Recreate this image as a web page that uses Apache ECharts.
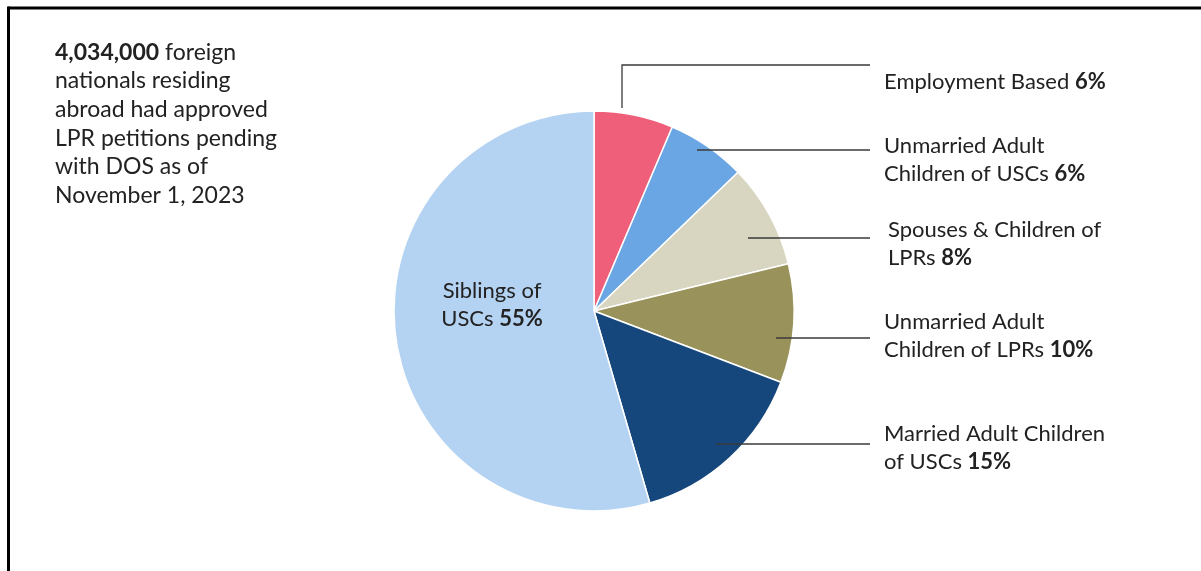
<!DOCTYPE html>
<html>
<head>
<meta charset="utf-8">
<script src="https://cdn.jsdelivr.net/npm/echarts@6/dist/echarts.min.js"></script>
<style>
html,body{margin:0;padding:0;background:#fff;}
#c{width:1201px;height:571px;}
</style>
</head>
<body>
<div id="c"></div>
<script>
// ---- data ----
const categories = [
  'Employment Based',
  'Unmarried Adult\nChildren of USCs',
  'Spouses & Children of\nLPRs',
  'Unmarried Adult\nChildren of LPRs',
  'Married Adult Children\nof USCs',
  'Siblings of\nUSCs'
];
const shares = [6.4, 6.4, 8.4, 9.6, 14.7, 54.5];
const totalPending = '4,034,000';
const introText = ' foreign\nnationals residing\nabroad had approved\nLPR petitions pending\nwith DOS as of\nNovember 1, 2023';

// ---- styles ----
const colors = ['#F05F79', '#6AA6E4', '#D8D6C1', '#9A925B', '#15477C', '#B4D2F2'];
const FONT = 'Lato';
const FS = 22;
const FS_INTRO = 23;
const TXT = '#222';
// label anchor positions (x, y center) and leader line points
const labelPos = [
  {x: 884, y: 82, align: 'left', line: [[622,108],[622,65],[870,65]]},
  {x: 884, y: 160, align: 'left', line: [[697,150],[784,150],[870,150]]},
  {x: 888, y: 244, align: 'left', line: [[748,238],[810,238],[870,238]]},
  {x: 884, y: 336, align: 'left', line: [[776,338],[820,338],[870,338]]},
  {x: 884, y: 448, align: 'left', line: [[716,444],[800,444],[870,444]]},
  {x: 492, y: 305, align: 'center', line: null}
];

function fmt(name, v) {
  const lines = name.split('\n');
  const last = lines.length - 1;
  return lines.map((l, i) => '{n|' + l + '}' + (i === last ? '{n| }{p|' + Math.round(v) + '%}' : '')).join('\n');
}

const introLines = introText.split('\n');
const chart = echarts.init(document.getElementById('c'));
const pieBase = {
  type: 'pie',
  center: [594, 311],
  radius: 200,
  startAngle: 90,
  clockwise: true,
  avoidLabelOverlap: false,
  emphasis: {disabled: true},
  silent: true
};
chart.setOption({
  animation: false,
  backgroundColor: '#fff',
  title: {
    left: 55, top: 38, padding: 0,
    text: '{b|' + totalPending + '}{n|' + introLines[0] + '}\n' +
          introLines.slice(1).map(l => '{n|' + l + '}').join('\n'),
    textStyle: {
      rich: {
        b: {fontFamily: FONT, fontSize: FS_INTRO, fontWeight: 'bold', color: TXT, lineHeight: 28.6},
        n: {fontFamily: FONT, fontSize: FS_INTRO, fontWeight: 'normal', color: TXT, lineHeight: 28.6}
      }
    }
  },
  graphic: [
    {type: 'line', shape: {x1: 8.5, y1: 8, x2: 1201, y2: 8}, style: {stroke: '#000', lineWidth: 3}, z: 100},
    {type: 'line', shape: {x1: 8.5, y1: 6.5, x2: 8.5, y2: 571}, style: {stroke: '#000', lineWidth: 3}, z: 100}
  ],
  series: [
    Object.assign({}, pieBase, {
      z: 2,
      itemStyle: {borderColor: '#fff', borderWidth: 1.5},
      label: {show: false},
      labelLine: {show: false},
      data: categories.map((c, i) => ({name: c, value: shares[i], itemStyle: {color: colors[i]}}))
    }),
    Object.assign({}, pieBase, {
      z: 5,
      itemStyle: {color: 'rgba(0,0,0,0)', borderWidth: 0},
      label: {
        show: true,
        position: 'outside',
        formatter: p => fmt(p.name, p.value),
        rich: {
          n: {fontFamily: FONT, fontSize: FS, color: TXT, lineHeight: 28.6},
          p: {fontFamily: FONT, fontSize: FS, fontWeight: 'bold', color: TXT, lineHeight: 28.6}
        }
      },
      labelLine: {show: true, lineStyle: {color: '#3a3a3a', width: 1.3}},
      labelLayout: function (params) {
        const lp = labelPos[params.dataIndex];
        const o = {x: lp.x, y: lp.y, align: lp.align, verticalAlign: 'middle'};
        if (lp.line) o.labelLinePoints = lp.line;
        return o;
      },
      data: categories.map((c, i) => ({
        name: c,
        value: shares[i],
        labelLine: {show: i !== 5}
      }))
    })
  ]
});
</script>
</body>
</html>
